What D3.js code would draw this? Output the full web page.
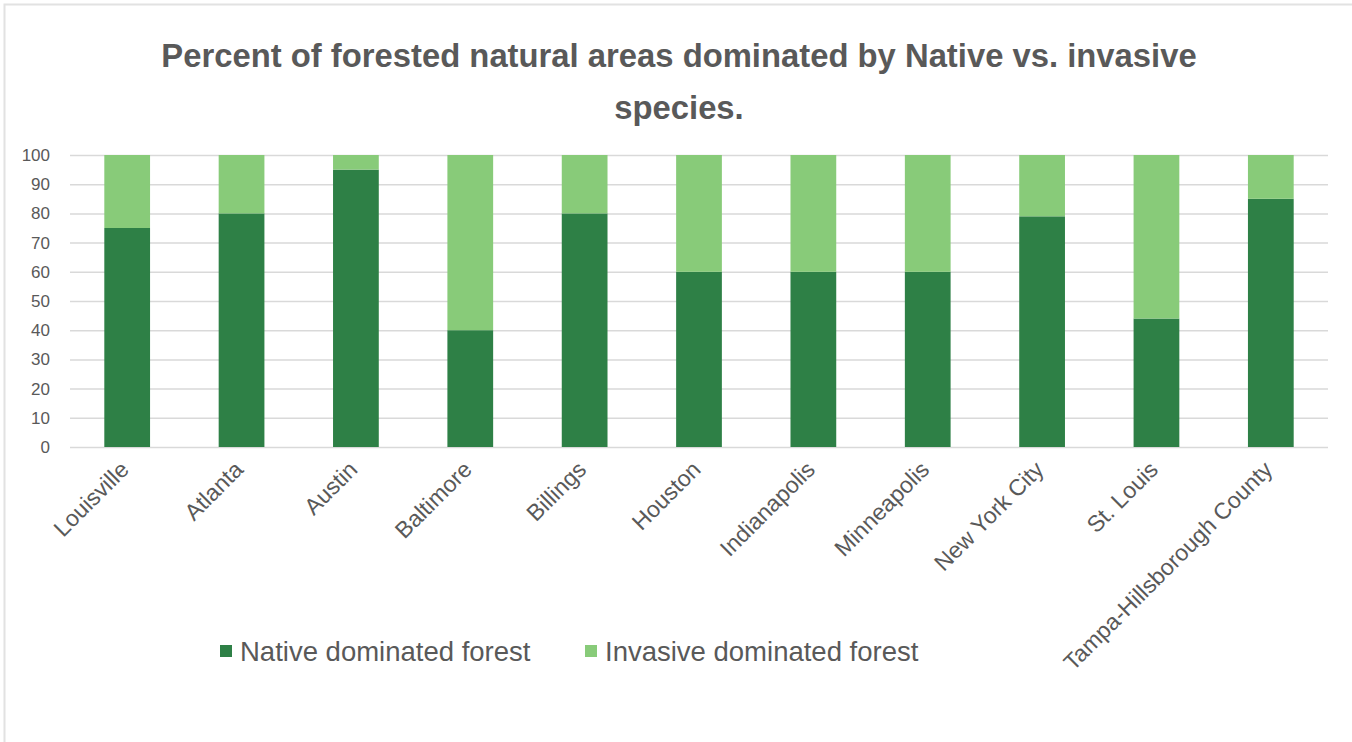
<!DOCTYPE html>
<html>
<head>
<meta charset="utf-8">
<script src="https://cdn.jsdelivr.net/npm/d3@7"></script>
<style>
  html, body { margin: 0; padding: 0; background: #ffffff; }
  svg { display: block; }
</style>
</head>
<body>
<svg id="chart" width="1352" height="742"></svg>
<script>
// City categories along the x axis
const cities = ["Louisville", "Atlanta", "Austin", "Baltimore", "Billings", "Houston",
  "Indianapolis", "Minneapolis", "New York City", "St. Louis", "Tampa-Hillsborough County"];

// Percent of forested natural area dominated by native species
const nativePct = [75, 80, 95, 40, 80, 60, 60, 60, 79, 44, 85];
// Percent dominated by invasive species
const invasivePct = [25, 20, 5, 60, 20, 40, 40, 40, 21, 56, 15];

const seriesNames = ["Native dominated forest", "Invasive dominated forest"];
const seriesColors = ["#2e8046", "#88cb79"];
const yTicks = [0, 10, 20, 30, 40, 50, 60, 70, 80, 90, 100];

const titleLines = ["Percent of forested natural areas dominated by Native vs. invasive", "species."];

const svg = d3.select("#chart");
const W = 1352, H = 742;
const font = "'Liberation Sans', Arial, Helvetica, sans-serif";
const textGray = "#595959";

// chart frame
svg.append("path")
  .attr("d", `M4.5,${H} L4.5,4.5 L${W},4.5`)
  .attr("fill", "none")
  .attr("stroke", "#e2e2e2")
  .attr("stroke-width", 2);

const plot = { left: 70, right: 1328, top: 155, bottom: 447 };

const x = d3.scaleBand()
  .domain(cities)
  .range([plot.left, plot.right])
  .paddingInner(0.6)
  .paddingOuter(0.3);

const y = d3.scaleLinear()
  .domain([0, 100])
  .range([plot.bottom, plot.top]);

// Title
svg.append("g")
  .selectAll("text")
  .data(titleLines)
  .join("text")
  .attr("x", 679)
  .attr("y", (d, i) => 67 + i * 52)
  .attr("text-anchor", "middle")
  .attr("font-family", font)
  .attr("font-weight", "bold")
  .attr("font-size", 32.8)
  .attr("fill", textGray)
  .text(d => d);

// Horizontal gridlines and y labels
const yAxis = d3.axisLeft(y)
  .tickValues(yTicks)
  .tickSize(-(plot.right - plot.left))
  .tickPadding(20);

const gy = svg.append("g")
  .attr("transform", `translate(${plot.left},0)`)
  .call(yAxis);
gy.select(".domain").remove();
gy.selectAll(".tick line")
  .attr("stroke", "#d9d9d9")
  .attr("stroke-width", 1.5);
gy.selectAll(".tick text")
  .attr("font-family", font)
  .attr("font-size", 17)
  .attr("fill", textGray);

// Stacked bars
const rows = cities.map((c, i) => ({ city: c, native: nativePct[i], invasive: invasivePct[i] }));
const stack = d3.stack().keys(["native", "invasive"]);
const layers = stack(rows);

svg.append("g")
  .selectAll("g")
  .data(layers)
  .join("g")
  .attr("fill", (d, i) => seriesColors[i])
  .selectAll("rect")
  .data(d => d)
  .join("rect")
  .attr("x", d => x(d.data.city))
  .attr("width", x.bandwidth())
  .attr("y", d => y(d[1]))
  .attr("height", d => y(d[0]) - y(d[1]));

// Category labels, rotated
const xAxis = d3.axisBottom(x).tickSize(0).tickPadding(0);
const gx = svg.append("g")
  .attr("transform", `translate(0,${plot.bottom})`)
  .call(xAxis);
gx.select(".domain").remove();
gx.selectAll(".tick text")
  .attr("font-family", font)
  .attr("font-size", 23)
  .attr("fill", textGray)
  .attr("text-anchor", "end")
  .attr("dy", null)
  .attr("y", 0)
  .attr("transform", "translate(3,24) rotate(-45)");

// Legend
const legendItems = [
  { name: seriesNames[0], color: seriesColors[0], x: 220 },
  { name: seriesNames[1], color: seriesColors[1], x: 585 }
];
const lg = svg.append("g");
const li = lg.selectAll("g")
  .data(legendItems)
  .join("g")
  .attr("transform", d => `translate(${d.x},651)`);
li.append("rect")
  .attr("x", 0).attr("y", -6)
  .attr("width", 12).attr("height", 12)
  .attr("fill", d => d.color);
li.append("text")
  .attr("x", 20)
  .attr("y", 9.5)
  .attr("font-family", font)
  .attr("font-size", 27.5)
  .attr("fill", textGray)
  .text(d => d.name);
</script>
</body>
</html>
